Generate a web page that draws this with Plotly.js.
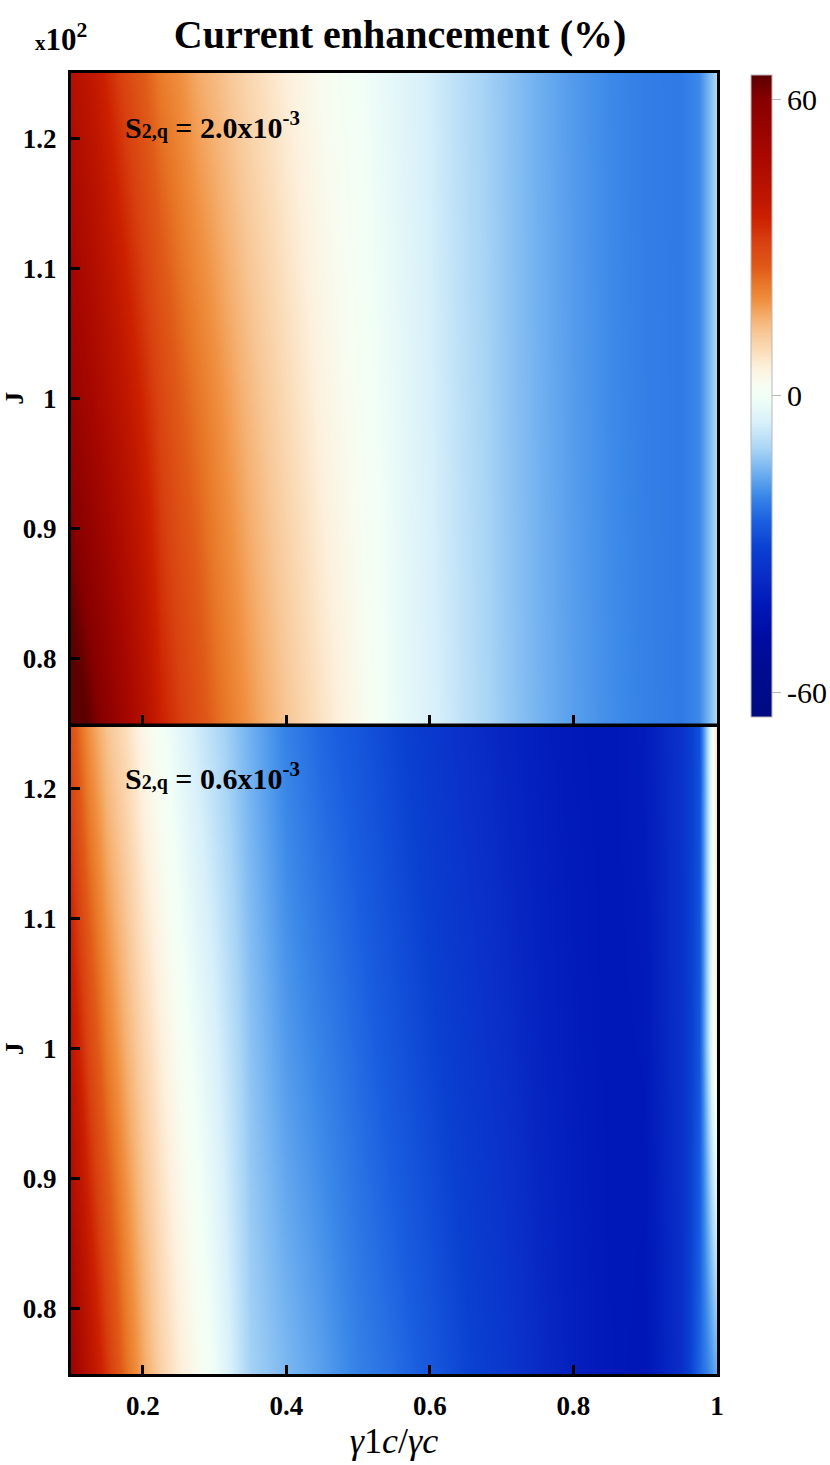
<!DOCTYPE html>
<html>
<head>
<meta charset="utf-8">
<script src="https://cdn.plot.ly/plotly-3.0.1.min.js"></script>
<style>
  body { margin: 0; background: #fff; }
  #plotArea { width: 830px; height: 1465px; }
</style>
</head>
<body>
<div id="plotArea"></div>
<script>
// x = gamma_1c / gamma_c, y = J (x10^2)
var xVals = [0.1, 0.125, 0.15, 0.175, 0.2, 0.225, 0.25, 0.275, 0.3, 0.35, 0.4, 0.45,
             0.5, 0.55, 0.6, 0.65, 0.7, 0.75, 0.8, 0.85, 0.9, 0.95, 0.975, 1.0];
var yVals = [0.75, 1.0, 1.25];

// current enhancement (%), S2,q = 2.0x10^-3 (rows: J = 0.75, 1.0, 1.25)
var zTop = [
  [70, 64, 58, 51, 44, 36, 32, 28.5, 24.5, 18.5, 13, 8, 3.5, -1.5, -5, -8.5, -12, -15, -17.5, -19.5, -21, -22, -20, -10],
  [54, 50, 45, 40, 35, 30, 26, 23, 20, 14.5, 9.5, 5, 1.5, -2, -5.5, -9, -12.3, -15.3, -17.8, -19.8, -21.3, -22, -20, -10],
  [44, 40, 35, 30, 26, 22, 19.5, 16.5, 14.5, 10, 6, 2.5, 0, -3, -6, -9.5, -12.5, -15.5, -18, -20, -21.5, -22, -20, -10]
];

// current enhancement (%), S2,q = 0.6x10^-3
var zBottom = [
  [53, 42, 33, 24, 17, 11, 6.5, 3, -1, -11, -14.5, -17.5, -21, -23.5, -26.5, -30, -33, -37, -40, -42, -43, -36, -25, -16],
  [40, 30, 22, 16, 10.5, 6, 2, -1.5, -5, -13, -18, -21, -24, -27, -30, -33, -36, -39, -41, -42.5, -42, -35.5, -27, 8],
  [28, 19, 13, 9, 4, 0.5, -3, -6.5, -9.5, -15.5, -21, -24.5, -27, -30, -33, -36, -38.5, -40.5, -42, -42.5, -41, -35, -28, 10]
];

var xTicks = [0.2, 0.4, 0.6, 0.8, 1];
var xTickText = ["0.2", "0.4", "0.6", "0.8", "1"];
var yTicks = [0.8, 0.9, 1, 1.1, 1.2];
var yTickText = ["0.8", "0.9", "1", "1.1", "1.2"];
var cbTicks = [-60, 0, 60];
var cbTickText = ["-60", "0", "60"];

var colors = [
  [0, "#000a80"], [0.072, "#000b8f"], [0.123, "#000ca0"], [0.175, "#0018b8"],
  [0.222, "#0a2ec8"], [0.263, "#0a40d0"], [0.304, "#1a5ee0"], [0.345, "#3a88e8"],
  [0.381, "#70b0f0"], [0.417, "#a8d4f5"], [0.458, "#d8f0fa"], [0.5, "#f2fff6"],
  [0.519, "#f8fcf0"], [0.545, "#fdf0dc"], [0.571, "#fbdcb8"], [0.597, "#f8c898"],
  [0.622, "#f5b070"], [0.648, "#f09040"], [0.674, "#e87828"], [0.7, "#e05a18"],
  [0.741, "#d84010"], [0.777, "#cc2000"], [0.802, "#c01800"], [0.874, "#a80800"],
  [0.962, "#860000"], [1, "#5c0000"]
];

var serif = "Liberation Serif, Times New Roman, serif";

var traceTop = {
  x: xVals, y: yVals, z: zTop,
  type: "heatmap", zsmooth: "best",
  xaxis: "x2", yaxis: "y2",
  colorscale: colors, zmin: -65, zmax: 65,
  showscale: true,
  colorbar: {
    x: 1.0526, xanchor: "left", xpad: 0,
    y: 0.9985, yanchor: "top", ypad: 0,
    lenmode: "pixels", len: 642,
    thickness: 21,
    outlinecolor: "#b8b8b8", outlinewidth: 1,
    tickvals: cbTicks, ticktext: cbTickText,
    ticks: "outside", ticklen: 9, tickcolor: "#b8b8b8",
    tickfont: {family: serif, size: 30, color: "#000"}
  }
};

var traceBottom = {
  x: xVals, y: yVals, z: zBottom,
  type: "heatmap", zsmooth: "best",
  xaxis: "x", yaxis: "y",
  colorscale: colors, zmin: -65, zmax: 65,
  showscale: false
};

var tickFont = {family: serif, size: 27, color: "#000", weight: "bold"};

function xAxis(anchor, labels) {
  return {
    anchor: anchor, range: [0.1, 1.0],
    tickvals: xTicks, ticktext: xTickText,
    showticklabels: labels,
    ticks: "inside", ticklen: 9, tickwidth: 2.5, tickcolor: "#000",
    showline: true, linewidth: 3, linecolor: "#000", mirror: true,
    showgrid: false, zeroline: false,
    tickfont: tickFont, ticklabelstandoff: 6
  };
}

function yAxis(anchor, domain) {
  return {
    anchor: anchor, domain: domain, range: [0.75, 1.25],
    tickvals: yTicks, ticktext: yTickText,
    ticks: "inside", ticklen: 9, tickwidth: 2.5, tickcolor: "#000",
    showline: true, linewidth: 3, linecolor: "#000", mirror: true,
    showgrid: false, zeroline: false,
    tickfont: tickFont, ticklabelstandoff: 6,
    title: {text: "J", font: {family: serif, size: 26, color: "#000", weight: "bold"}, standoff: 12}
  };
}

var xaxis = xAxis("y", true);
xaxis.title = {text: "<i>γ</i>1<i>c</i>/<i>γc</i>", font: {family: serif, size: 36, color: "#000"}, standoff: 8};

var layout = {
  width: 830, height: 1465,
  margin: {l: 71, r: 113, t: 73, b: 91, autoexpand: false},
  paper_bgcolor: "#fff", plot_bgcolor: "#fff",
  title: {
    text: "<b>Current enhancement (%)</b>",
    font: {family: serif, size: 40, color: "#000"},
    xref: "container", x: 0.482, xanchor: "center",
    yref: "container", y: 0.977, yanchor: "middle"
  },
  xaxis: xaxis,
  yaxis: yAxis("x", [0, 0.5]),
  xaxis2: xAxis("y2", false),
  yaxis2: yAxis("x2", [0.5, 1]),
  annotations: [
    {
      text: "<b><span style='font-size:21px'>x</span>10<sup>2</sup></b>",
      xref: "paper", yref: "paper", x: -0.016, y: 1.027,
      xanchor: "center", yanchor: "middle", showarrow: false,
      font: {family: serif, size: 31, color: "#000"}
    },
    {
      text: "<b>S<span style='font-size:20px'>2,q</span> = 2.0x10<sup>-3</sup></b>",
      xref: "x2", yref: "y2", x: 0.172, y: 1.21,
      xanchor: "left", yanchor: "middle", showarrow: false,
      font: {family: serif, size: 30, color: "#000"}
    },
    {
      text: "<b>S<span style='font-size:20px'>2,q</span> = 0.6x10<sup>-3</sup></b>",
      xref: "x", yref: "y", x: 0.172, y: 1.21,
      xanchor: "left", yanchor: "middle", showarrow: false,
      font: {family: serif, size: 30, color: "#000"}
    }
  ]
};

Plotly.newPlot("plotArea", [traceTop, traceBottom], layout, {displayModeBar: false});
</script>
</body>
</html>
